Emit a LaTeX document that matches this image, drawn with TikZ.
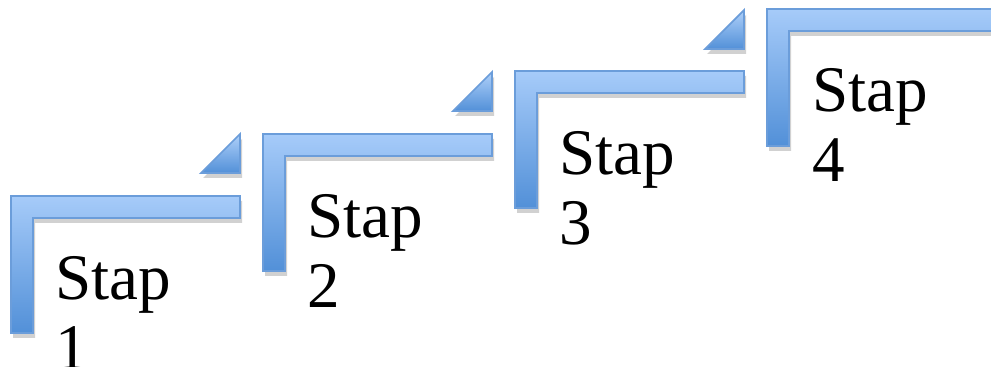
\documentclass[tikz,border=0pt]{standalone}
\usepackage{fontspec}
\setmainfont{Liberation Serif}
\usetikzlibrary{shadows}

\begin{document}
\begin{tikzpicture}[
  x=0.01cm,
  y=-0.01cm,
  stapvorm/.style={
    draw=stapblauwrand,
    line width=0.5pt,
    top color=stapblauwlicht,
    bottom color=stapblauwdonker,
    drop shadow={shadow xshift=0.6pt, shadow yshift=-1.4pt, opacity=0.18, fill=black}
  },
  driehoek/.style={
    draw=stapblauwrand,
    line width=0.5pt,
    top color=stapblauwlicht!90!white,
    bottom color=stapblauwdonker,
    drop shadow={shadow xshift=0.6pt, shadow yshift=-1.4pt, opacity=0.18, fill=black}
  },
  staptekst/.style={
    anchor=north west,
    inner sep=0pt,
    align=left,
    font=\fontsize{18.5}{19.8}\selectfont
  }
]
\definecolor{stapblauwlicht}{HTML}{A6CBF9}
\definecolor{stapblauwdonker}{HTML}{5290D8}
\definecolor{stapblauwrand}{HTML}{6B9DDA}

\useasboundingbox (0,0) rectangle (991,367);
\clip (0,0) rectangle (991,367);

% Steps
\path[stapvorm] (11,196) -- ++(229,0) -- ++(0,22) -- ++(-207,0) -- ++(0,115) -- ++(-22,0) -- cycle;
\path[stapvorm] (263,134) -- ++(229,0) -- ++(0,22) -- ++(-207,0) -- ++(0,115) -- ++(-22,0) -- cycle;
\path[stapvorm] (515,71) -- ++(229,0) -- ++(0,22) -- ++(-207,0) -- ++(0,115) -- ++(-22,0) -- cycle;
\path[stapvorm] (767,9) -- ++(260,0) -- ++(0,22) -- ++(-238,0) -- ++(0,115) -- ++(-22,0) -- cycle;

% Triangles
\path[driehoek] (240,173) -- (240,134) -- (201,173) -- cycle;
\path[driehoek] (492,111) -- (492,72) -- (453,111) -- cycle;
\path[driehoek] (744,49) -- (744,10) -- (705,49) -- cycle;

% Nodes
\node[staptekst] (stap1) at (55,256) {Stap\\1};
\node[staptekst] (stap2) at (307,194) {Stap\\2};
\node[staptekst] (stap3) at (559,131) {Stap\\3};
\node[staptekst] (stap4) at (812,68) {Stap\\4};

\end{tikzpicture}
\end{document}
